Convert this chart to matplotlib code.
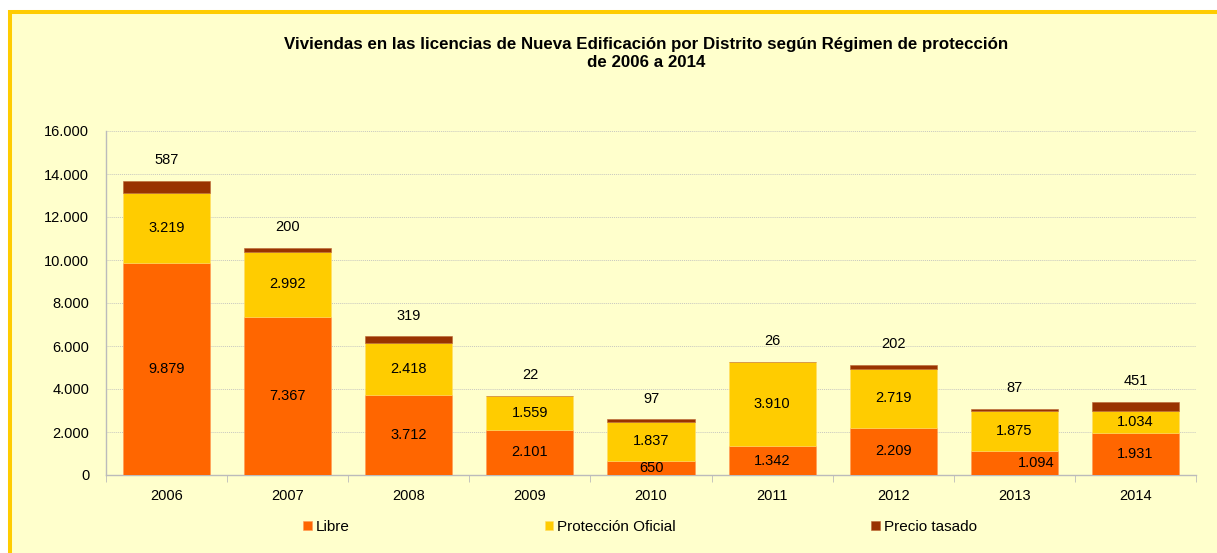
import numpy as np
import matplotlib.pyplot as plt
from matplotlib.patches import Rectangle

plt.rcParams['font.family'] = ['Liberation Sans', 'DejaVu Sans']

years = ['2006', '2007', '2008', '2009', '2010', '2011', '2012', '2013', '2014']
libre = [9879, 7367, 3712, 2101, 650, 1342, 2209, 1094, 1931]
proteccion = [3219, 2992, 2418, 1559, 1837, 3910, 2719, 1875, 1034]
tasado = [587, 200, 319, 22, 97, 26, 202, 87, 451]
series_names = ['Libre', 'Protección Oficial', 'Precio tasado']

c_libre = '#FF6600'
c_prot = '#FFCC00'
c_tas = '#993300'
bg = '#FFFFCC'


def fmt(v):
    return '{:,}'.format(int(v)).replace(',', '.')


fig = plt.figure(figsize=(12.17, 5.53), dpi=100)
fig.patch.set_facecolor('white')
# yellow frame of the chart area
frame = Rectangle((10 / 1217, -0.05), 1.1, 1 - 12 / 553 + 0.05,
                  transform=fig.transFigure, facecolor=bg,
                  edgecolor='#FFCC00', linewidth=2.9, zorder=-10)
fig.add_artist(frame)

ax = fig.add_axes([106 / 1217, 1 - 475 / 553, (1196 - 106) / 1217, (475 - 131) / 553])
ax.set_facecolor(bg)

x = np.arange(len(years))
w = 0.72
libre = np.array(libre)
proteccion = np.array(proteccion)
tasado = np.array(tasado)

b1 = ax.bar(x, libre, w, color=c_libre, edgecolor='#FF9955', linewidth=0.4, label=series_names[0], zorder=3)
b2 = ax.bar(x, proteccion, w, bottom=libre, color=c_prot, edgecolor='#FFDD66', linewidth=0.4,
            label=series_names[1], zorder=3)
b3 = ax.bar(x, tasado, w, bottom=libre + proteccion, color=c_tas, edgecolor='#BB6633', linewidth=0.4,
            label=series_names[2], zorder=3)

fs = 10.5
for i in range(len(years)):
    dx = 0.18 if years[i] == '2013' else 0
    ax.text(x[i] + dx, libre[i] / 2, fmt(libre[i]), ha='center', va='center', fontsize=fs, zorder=4)
    ax.text(x[i], libre[i] + proteccion[i] / 2, fmt(proteccion[i]), ha='center', va='center',
            fontsize=fs, zorder=4)
    top = libre[i] + proteccion[i] + tasado[i]
    ax.annotate(fmt(tasado[i]), (x[i], top), xytext=(0, 15), textcoords='offset points',
                ha='center', va='center', fontsize=fs, zorder=4)

ax.set_xlim(-0.5, len(years) - 0.5)
ax.set_ylim(0, 16000)
ax.set_yticks(np.arange(0, 16001, 2000))
ax.set_yticklabels([fmt(v) for v in np.arange(0, 16001, 2000)], fontsize=fs)
ax.set_xticks(x)
ax.set_xticklabels(years, fontsize=fs)
ax.set_xticks(np.arange(-0.5, len(years), 1), minor=True)
ax.tick_params(axis='x', which='major', length=0, pad=10)
ax.tick_params(axis='x', which='minor', length=5, color='#BBBBBB', direction='out')
ax.tick_params(axis='y', length=0, pad=12)
ax.grid(axis='y', color='#C8C8C0', linestyle=(0, (1, 1)), linewidth=0.7, zorder=0)
for s in ['top', 'right']:
    ax.spines[s].set_visible(False)
for s in ['left', 'bottom']:
    ax.spines[s].set_color('#BBBBBB')
    ax.spines[s].set_linewidth(1)

fig.text(646 / 1217, 1 - 44 / 553, 'Viviendas en las licencias de Nueva Edificación por Distrito según Régimen de protección',
         ha='center', va='center', fontsize=12.2, fontweight='bold')
fig.text(646 / 1217, 1 - 63 / 553, 'de 2006 a 2014', ha='center', va='center', fontsize=12.2, fontweight='bold')

leg = fig.legend(handles=[b1, b2, b3], labels=series_names, loc='center', ncol=3,
                 bbox_to_anchor=(640 / 1217, 1 - 527 / 553), frameon=False, fontsize=11,
                 handlelength=0.55, handleheight=0.55, handletextpad=0.25, columnspacing=12.8)

fig.savefig('out.png', dpi=100, facecolor=fig.get_facecolor())
